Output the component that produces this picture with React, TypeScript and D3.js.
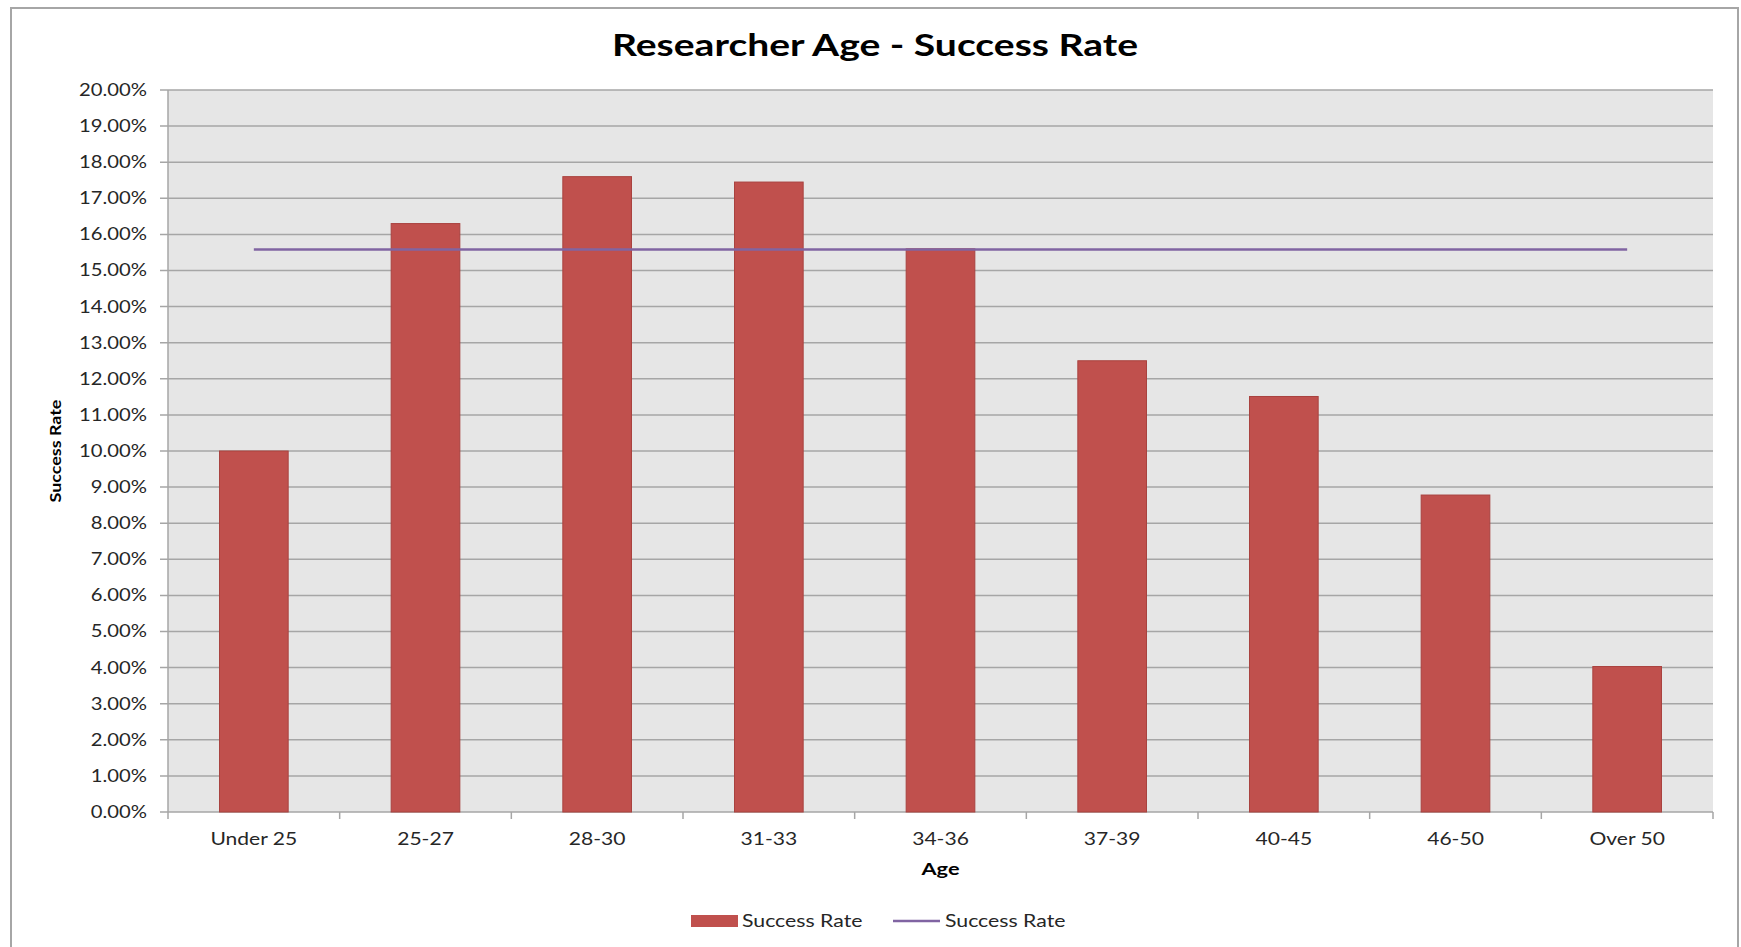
import React, { useEffect, useRef } from "react";
import * as d3 from "d3";

const categories = ["Under 25", "25-27", "28-30", "31-33", "34-36", "37-39", "40-45", "46-50", "Over 50"];
const barValues = [0.1, 0.163, 0.176, 0.1745, 0.156, 0.125, 0.1151, 0.0878, 0.0403];
const averageValues = [0.1558, 0.1558, 0.1558, 0.1558, 0.1558, 0.1558, 0.1558, 0.1558, 0.1558];
const yTicks = d3.range(0, 21).map((d) => d / 100);
const title = "Researcher Age - Success Rate";
const xTitle = "Age";
const yTitle = "Success Rate";
const legendLabels = ["Success Rate", "Success Rate"];

const W = 1741;
const H = 947;
const plot = { left: 168, right: 1713, top: 90, bottom: 812 };
const FONT = "Lato, 'Open Sans', sans-serif";

type Sel = d3.Selection<any, unknown, null, undefined>;

function addText(
  g: Sel,
  x: number,
  y: number,
  text: string,
  opts: { size: number; anchor?: string; weight?: string; fill?: string; sx?: number; rotate?: number; dy?: string }
) {
  const sx = opts.sx ?? 1.22;
  const rot = opts.rotate ? ` rotate(${opts.rotate})` : "";
  return g.append("text")
    .attr("transform", `translate(${x},${y})${rot} scale(${sx},1)`)
    .attr("text-anchor", opts.anchor ?? "start")
    .attr("dy", opts.dy ?? null)
    .attr("font-family", FONT)
    .attr("font-size", opts.size)
    .attr("font-weight", opts.weight ?? "normal")
    .attr("fill", opts.fill ?? "#262626")
    .text(text);
}

export default function App() {
  const ref = useRef<SVGSVGElement>(null);

  useEffect(() => {
    const svg = d3.select(ref.current) as unknown as Sel;
    svg.selectAll("*").remove();

    svg.append("rect").attr("x", 0).attr("y", 0).attr("width", W).attr("height", H).attr("fill", "#fff");
    svg.append("rect")
      .attr("x", 11).attr("y", 8).attr("width", 1727).attr("height", H + 20)
      .attr("fill", "#fff").attr("stroke", "#a6a6a6").attr("stroke-width", 2);

    const x = d3.scaleBand<string>().domain(categories).range([plot.left, plot.right]).paddingInner(0.6).paddingOuter(0.3);
    const xc = d3.scalePoint<string>().domain(categories).range([plot.left, plot.right]).padding(0.5);
    const y = d3.scaleLinear().domain([0, 0.2]).range([plot.bottom, plot.top]);

    svg.append("rect")
      .attr("x", plot.left).attr("y", plot.top)
      .attr("width", plot.right - plot.left).attr("height", plot.bottom - plot.top)
      .attr("fill", "#e6e6e6");

    const fmt = d3.format(".2%");
    const yAxis = svg.append("g") as unknown as Sel;
    yTicks.forEach((t) => {
      yAxis.append("line")
        .attr("x1", plot.left - 8).attr("x2", plot.right)
        .attr("y1", y(t)).attr("y2", y(t))
        .attr("stroke", "#a6a6a6").attr("stroke-width", 1.5);
      addText(yAxis, 147, y(t), fmt(t), { size: 17, anchor: "end", dy: "0.35em", sx: 1.19 });
    });
    svg.append("line")
      .attr("x1", plot.left).attr("x2", plot.left).attr("y1", plot.top).attr("y2", plot.bottom)
      .attr("stroke", "#a6a6a6").attr("stroke-width", 1.5);

    const step = (plot.right - plot.left) / categories.length;
    d3.range(categories.length + 1).forEach((i) => {
      const px = plot.left + i * step;
      svg.append("line")
        .attr("x1", px).attr("x2", px).attr("y1", plot.bottom).attr("y2", plot.bottom + 7)
        .attr("stroke", "#a6a6a6").attr("stroke-width", 1.5);
    });

    svg.append("g").selectAll("rect").data(categories).join("rect")
      .attr("x", (d) => x(d)!)
      .attr("y", (_, i) => y(barValues[i]))
      .attr("width", x.bandwidth())
      .attr("height", (_, i) => plot.bottom - y(barValues[i]))
      .attr("fill", "#c0504d")
      .attr("stroke", "#a9423f").attr("stroke-width", 1);

    const line = d3.line<number>().x((_, i) => xc(categories[i])!).y((d) => y(d));
    svg.append("path").attr("d", line(averageValues)!)
      .attr("fill", "none").attr("stroke", "#8064a2").attr("stroke-width", 2.5);

    const xl = svg.append("g") as unknown as Sel;
    categories.forEach((c) => addText(xl, xc(c)!, 845, c, { size: 17, anchor: "middle", sx: 1.24 }));

    addText(svg, 875, 56, title, { size: 31, anchor: "middle", weight: "bold", fill: "#000", sx: 1.26 });
    addText(svg, (plot.left + plot.right) / 2, 875, xTitle, { size: 17, anchor: "middle", weight: "bold", fill: "#000", sx: 1.28 });
    addText(svg, 61, 451, yTitle, { size: 16, anchor: "middle", weight: "bold", fill: "#000", sx: 1.12, rotate: -90 });

    const lg = svg.append("g") as unknown as Sel;
    lg.append("rect").attr("x", 691).attr("y", 915).attr("width", 47).attr("height", 12).attr("fill", "#c0504d");
    addText(lg, 742, 927, legendLabels[0], { size: 17, sx: 1.25 });
    lg.append("line").attr("x1", 893).attr("x2", 940).attr("y1", 921).attr("y2", 921)
      .attr("stroke", "#8064a2").attr("stroke-width", 2.5);
    addText(lg, 945, 927, legendLabels[1], { size: 17, sx: 1.25 });
  }, []);

  return (
    <svg ref={ref} width={W} height={H} style={{ position: "absolute", left: 0, top: 0, display: "block" }} />
  );
}
